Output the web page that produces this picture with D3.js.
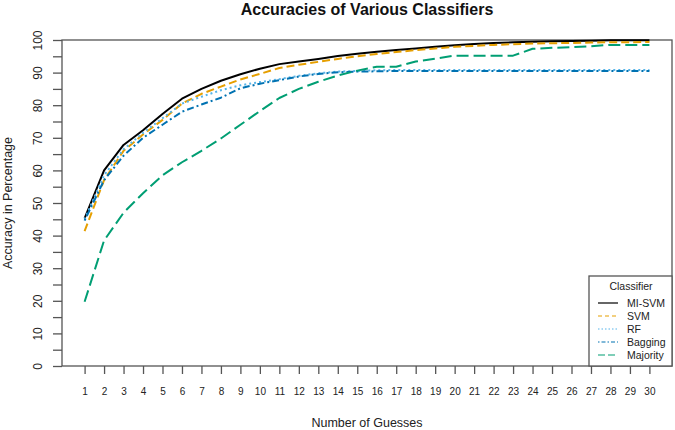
<!DOCTYPE html>
<html>
<head>
<meta charset="utf-8">
<script src="https://cdn.jsdelivr.net/npm/d3@7"></script>
<style>
  html, body { margin: 0; padding: 0; background: #fff; }
  svg { display: block; font-family: "Liberation Sans", Arial, Helvetica, sans-serif; }
</style>
</head>
<body>
<div id="chart"></div>
<script>
// ---- data ----
const guesses = [1,2,3,4,5,6,7,8,9,10,11,12,13,14,15,16,17,18,19,20,21,22,23,24,25,26,27,28,29,30];
const miSvm   = [45.3,60,67.8,72.3,77.3,82,85,87.5,89.5,91.2,92.6,93.4,94.2,95.1,95.8,96.4,96.9,97.4,97.9,98.4,98.8,99.1,99.3,99.5,99.6,99.7,99.8,99.9,99.9,99.9];
const svm     = [41.4,57,66,71,75.5,80.5,83.5,85.7,87.9,89.6,91.4,92.4,93.3,94.2,95,95.7,96.3,96.9,97.4,97.9,98.2,98.5,98.7,98.9,99,99.1,99.2,99.3,99.3,99.4];
const rf      = [45,58.5,66.5,71.5,76,80.5,82.6,84.6,86.1,87.1,88,89,89.8,90.3,90.5,90.7,90.8,90.8,90.8,90.8,90.8,90.8,90.8,90.8,90.8,90.8,90.8,90.8,90.8,90.8];
const bagging = [44.6,57,64.5,70,74,78,80.2,82.3,85.2,86.6,87.7,88.8,89.6,90.1,90.3,90.4,90.5,90.5,90.5,90.5,90.5,90.5,90.5,90.5,90.5,90.5,90.5,90.5,90.5,90.5];
const majority= [19.7,38.5,47,53,58.5,62.5,66,69.8,74,78.2,82.2,85,87.2,89.1,90.6,91.8,91.8,93.4,94.3,95.2,95.2,95.2,95.2,97.3,97.6,97.8,98.1,98.5,98.5,98.5];
const seriesNames = ["MI-SVM","SVM","RF","Bagging","Majority"];
const yTickValues = [0,5,10,15,20,25,30,35,40,45,50,55,60,65,70,75,80,85,90,95,100];
const yTickLabels = [0,10,20,30,40,50,60,70,80,90,100];

// ---- styles ----
const styles = [
  { color: "#000000", dash: null,       legendDash: null },
  { color: "#E69F00", dash: "8,4",      legendDash: "4,3" },
  { color: "#56B4E9", dash: "2,3",      legendDash: "1.5,2" },
  { color: "#0072B2", dash: "2,3,7,3",  legendDash: "1.5,2,4,2" },
  { color: "#009E73", dash: "12,5",     legendDash: "7,3" }
];
const seriesValues = [miSvm, svm, rf, bagging, majority];

const W = 675, H = 430;
const pLeft = 62, pRight = 672, pTop = 40, pBottom = 366;

const svg = d3.select("#chart").append("svg").attr("width", W).attr("height", H);

const x = d3.scaleLinear().domain([1 - 1.16, 30 + 1.16]).range([pLeft, pRight]);
const y = d3.scaleLinear().domain([0, 100]).range([pBottom, pTop]);

const axisColor = "#555";

// Title
svg.append("text")
  .attr("x", (pLeft + pRight) / 2).attr("y", 15)
  .attr("text-anchor", "middle")
  .attr("font-size", 16).attr("font-weight", "bold")
  .attr("fill", "#111")
  .text("Accuracies of Various Classifiers");

// Y axis
const yAxis = svg.append("g")
  .attr("transform", `translate(${pLeft},0)`)
  .call(d3.axisLeft(y).tickValues(yTickValues).tickSize(9)
        .tickFormat(d => yTickLabels.includes(d) ? d : ""));
yAxis.select(".domain").remove();
yAxis.selectAll(".tick line").attr("stroke", axisColor).attr("stroke-width", 1.3);
yAxis.selectAll(".tick text")
  .attr("transform", "rotate(-90)")
  .attr("x", 0).attr("y", -24).attr("dy", "0.35em")
  .attr("text-anchor", "middle")
  .attr("font-size", 12).attr("fill", "#222")
  .attr("font-family", "Liberation Sans, Arial, sans-serif");

// X axis
const xAxis = svg.append("g")
  .attr("transform", `translate(0,${pBottom})`)
  .call(d3.axisBottom(x).tickValues(guesses).tickSize(8).tickFormat(d => d));
xAxis.select(".domain").remove();
xAxis.selectAll(".tick line").attr("stroke", axisColor).attr("stroke-width", 1.3);
xAxis.selectAll(".tick text")
  .attr("y", 22).attr("dy", "0.71em")
  .attr("font-size", 10).attr("fill", "#222")
  .attr("font-family", "Liberation Sans, Arial, sans-serif");

// Plot box
svg.append("rect")
  .attr("x", pLeft).attr("y", pTop)
  .attr("width", pRight - pLeft).attr("height", pBottom - pTop)
  .attr("fill", "none").attr("stroke", axisColor).attr("stroke-width", 1.3);

// Axis titles
svg.append("text")
  .attr("x", (pLeft + pRight) / 2).attr("y", 427)
  .attr("text-anchor", "middle")
  .attr("font-size", 12.5).attr("fill", "#222")
  .text("Number of Guesses");
svg.append("text")
  .attr("transform", `translate(12,${(pTop + pBottom) / 2}) rotate(-90)`)
  .attr("text-anchor", "middle")
  .attr("font-size", 12.5).attr("fill", "#222")
  .text("Accuracy in Percentage");

// Lines
const line = d3.line().x((d, i) => x(guesses[i])).y(d => y(d));
seriesValues.forEach((vals, k) => {
  svg.append("path")
    .datum(vals)
    .attr("d", line)
    .attr("fill", "none")
    .attr("stroke", styles[k].color)
    .attr("stroke-width", 2)
    .attr("stroke-linejoin", "round")
    .attr("stroke-dasharray", styles[k].dash);
});

// Legend
const lg = svg.append("g");
lg.append("rect")
  .attr("x", 589).attr("y", 276)
  .attr("width", pRight - 589).attr("height", pBottom - 276)
  .attr("fill", "#fff").attr("stroke", axisColor).attr("stroke-width", 1.3);
lg.append("text")
  .attr("x", 631).attr("y", 290)
  .attr("text-anchor", "middle")
  .attr("font-size", 10.5).attr("fill", "#222")
  .text("Classifier");
seriesNames.forEach((name, k) => {
  const cy = 303 + k * 13;
  lg.append("line")
    .attr("x1", 598).attr("x2", 618).attr("y1", cy).attr("y2", cy)
    .attr("stroke", styles[k].color).attr("stroke-width", 1.2)
    .attr("stroke-dasharray", styles[k].legendDash);
  lg.append("text")
    .attr("x", 627).attr("y", cy + 4)
    .attr("font-size", 10.5).attr("fill", "#222")
    .text(name);
});
</script>
</body>
</html>
